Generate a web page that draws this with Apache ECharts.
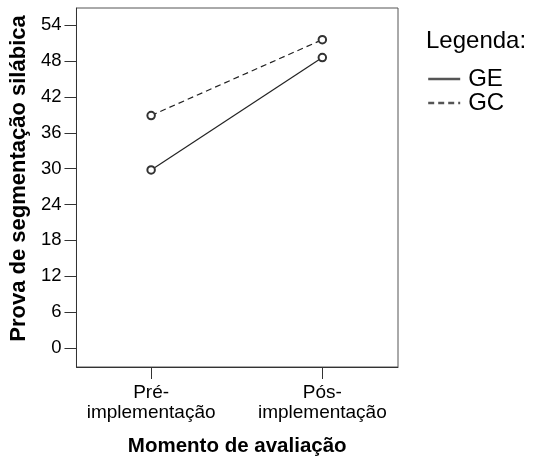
<!DOCTYPE html>
<html><head><meta charset="utf-8">
<script src="https://cdn.jsdelivr.net/npm/echarts@6/dist/echarts.min.js"></script>
<style>html,body{margin:0;padding:0;background:#fff}#c{width:536px;height:462px}</style>
</head><body><div id="c"></div>
<script>
const categories = ['Pré-\nimplementação', 'Pós-\nimplementação'];
const categoryPos = [0, 1];
const seriesNames = ['GE', 'GC'];
const geValues = [29.8, 48.6];
const gcValues = [38.9, 51.6];
const yTicks = [0, 6, 12, 18, 24, 30, 36, 42, 48, 54];
const yTitle = 'Prova de segmentação silábica';
const xTitle = 'Momento de avaliação';
const legendTitle = 'Legenda:';

const FF = '"Liberation Sans", Arial, sans-serif';
const chart = echarts.init(document.getElementById('c'), null, {renderer: 'canvas'});
const toPts = vals => vals.map((v, i) => [categoryPos[i], v]);

chart.setOption({
  animation: false,
  backgroundColor: '#fff',
  title: {text: legendTitle, left: 421, top: 24, textStyle: {fontFamily: FF, fontSize: 24, fontWeight: 'normal', color: '#000'}},
  legend: {
    orient: 'vertical', left: 422, top: 62, itemWidth: 32, itemHeight: 22, itemGap: 0,
    data: seriesNames,
    textStyle: {fontFamily: FF, fontSize: 24, lineHeight: 22, color: '#000', padding: [0, 0, 0, 3]},
    itemStyle: {opacity: 0},
    lineStyle: {width: 2.4, color: '#555'}
  },
  grid: {left: 75, top: 8, right: 138, bottom: 94, show: true, borderColor: '#555', borderWidth: 1},
  xAxis: {
    type: 'value', min: -0.436, max: 1.442,
    name: xTitle, nameLocation: 'middle', nameGap: 69,
    nameTextStyle: {fontFamily: FF, fontSize: 20.5, fontWeight: 'bold', color: '#000'},
    axisLine: {show: true, onZero: false, lineStyle: {color: '#333'}},
    axisTick: {show: true, length: 12, customValues: categoryPos, lineStyle: {color: '#333'}},
    axisLabel: {customValues: categoryPos, formatter: v => categories[Math.round(v)], margin: 16,
      fontFamily: FF, fontSize: 19, color: '#000', lineHeight: 20},
    splitLine: {show: false}
  },
  yAxis: {
    type: 'value', min: -3.2, max: 56.9,
    name: yTitle, nameLocation: 'middle', nameGap: 46,
    nameTextStyle: {fontFamily: FF, fontSize: 22, fontWeight: 'bold', color: '#000', padding: [0, 0, 0, 18]},
    axisLine: {show: true, onZero: false, lineStyle: {color: '#333'}},
    axisTick: {show: true, length: 12, customValues: yTicks, lineStyle: {color: '#333'}},
    axisLabel: {customValues: yTicks, margin: 15, fontFamily: FF, fontSize: 18.5, color: '#000'},
    splitLine: {show: false}
  },
  series: [
    {name: seriesNames[0], type: 'line', data: toPts(geValues), symbol: 'emptyCircle', symbolSize: 7.5,
      itemStyle: {color: '#333', borderColor: '#333', borderWidth: 0.9},
      lineStyle: {color: '#222', width: 1.2, type: 'solid'}},
    {name: seriesNames[1], type: 'line', data: toPts(gcValues), symbol: 'emptyCircle', symbolSize: 7.5,
      itemStyle: {color: '#333', borderColor: '#333', borderWidth: 0.9},
      lineStyle: {color: '#222', width: 1.2, type: [6, 4]}}
  ]
});
</script></body></html>
